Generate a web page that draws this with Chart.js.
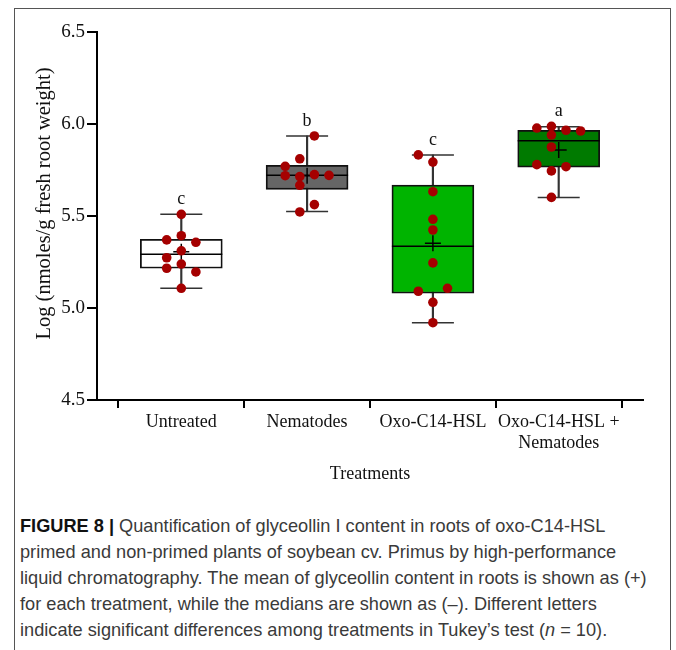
<!DOCTYPE html>
<html>
<head>
<meta charset="utf-8">
<script src="https://cdn.jsdelivr.net/npm/chart.js@4.4.1/dist/chart.umd.min.js"></script>
<style>
  body { margin: 0; background: #fff; width: 676px; height: 650px; overflow: hidden; position: relative; }
  #frame { position: absolute; left: 14px; top: 8px; width: 657px; height: 700px; border: 1.5px solid #555; box-sizing: border-box; }
  #chart { position: absolute; left: 0; top: 0; }
  #caption {
    position: absolute; left: 20px; top: 513px; width: 650px;
    font-family: "Liberation Sans", Arial, sans-serif; font-size: 18.2px; line-height: 26px;
    color: #3a3a3a; white-space: nowrap;
  }
  #caption b { color: #111; }
</style>
</head>
<body>
<div id="frame"></div>
<canvas id="chart" width="676" height="500"></canvas>
<div id="caption"><b>FIGURE 8 |</b> Quantification of glyceollin I content in roots of oxo-C14-HSL<br>primed and non-primed plants of soybean cv. Primus by high-performance<br>liquid chromatography. The mean of glyceollin content in roots is shown as (+)<br>for each treatment, while the medians are shown as (&#8211;). Different letters<br>indicate significant differences among treatments in Tukey&#8217;s test (<i>n</i> = 10).</div>
<script>
const categories = ['Untreated', 'Nematodes', 'Oxo-C14-HSL', ['Oxo-C14-HSL +', 'Nematodes']];
const sigLetters = ['c', 'b', 'c', 'a'];
const yTitle = 'Log (nmoles/g fresh root weight)';

// box statistics
const boxMin    = [5.107, 5.524, 4.920, 5.601];
const boxQ1     = [5.216, 5.645, 5.080, 5.765];
const boxMedian = [5.292, 5.721, 5.335, 5.909];
const boxQ3     = [5.373, 5.775, 5.668, 5.966];
const boxMax    = [5.509, 5.935, 5.832, 5.985];
const boxMean   = [5.306, 5.719, 5.352, 5.859];

// individual replicates (n = 10 per treatment)
const untreatedPts = [5.509, 5.393, 5.370, 5.357, 5.311, 5.273, 5.239, 5.216, 5.196, 5.107];
const nematodePts  = [5.935, 5.811, 5.770, 5.719, 5.714, 5.725, 5.721, 5.667, 5.562, 5.522];
const oxoPts       = [5.832, 5.793, 5.632, 5.482, 5.424, 5.245, 5.091, 5.107, 5.031, 4.920];
const oxoNemPts    = [5.978, 5.987, 5.940, 5.966, 5.962, 5.875, 5.779, 5.768, 5.745, 5.601];

// horizontal column of each dot inside its group (scatter-dot jitter)
const untreatedCol = [0, 0, -2, 2, 0, -2, 0, -2, 2, 0];
const nematodeCol  = [1, -1, -3, -3, -1, 1, 3, -1, 1, -1];
const oxoCol       = [-2, 0, 0, 0, 0, 0, -2, 2, 0, 0];
const oxoNemCol    = [-3, -1, -1, 1, 3, -1, -3, 1, -1, -1];

const groupPts = [untreatedPts, nematodePts, oxoPts, oxoNemPts];
const groupCol = [untreatedCol, nematodeCol, oxoCol, oxoNemCol];
const boxColors = ['#ffffff', '#666666', '#00b400', '#007a00'];

const colStep = 0.058;
const dots = [];
groupPts.forEach(function (pts, g) {
    for (var i = 0; i < pts.length; i++) {
        dots.push({ x: g + groupCol[g][i] * colStep, y: pts[i] });
    }
});

const idx = categories.map(function (c, i) { return i; });

// significance letters above the whiskers + the rotated y title
const letterPlugin = {
    id: 'letters',
    afterDatasetsDraw: function (chart) {
        const ctx = chart.ctx;
        const xs = chart.scales.x, ys = chart.scales.y;
        ctx.save();
        ctx.font = '18px "Liberation Serif"';
        ctx.fillStyle = '#111';
        ctx.textAlign = 'center';
        ctx.textBaseline = 'middle';
        for (var i = 0; i < sigLetters.length; i++) {
            ctx.fillText(sigLetters[i], xs.getPixelForValue(i), ys.getPixelForValue(boxMax[i]) - 15);
        }
        ctx.translate(45, (chart.chartArea.top + chart.chartArea.bottom) / 2 - 12.5);
        ctx.rotate(-Math.PI / 2);
        ctx.font = '20.5px "Liberation Serif"';
        ctx.fillText(yTitle, 0, 0);
        ctx.restore();
    }
};

Chart.defaults.font.family = '"Liberation Serif", "Times New Roman", serif';
Chart.defaults.color = '#111';

new Chart(document.getElementById('chart'), {
    type: 'bar',
    data: {
        datasets: [
            {
                type: 'scatter',
                data: dots,
                pointStyle: 'circle',
                pointRadius: 4.8,
                backgroundColor: '#a50000',
                borderWidth: 0,
                order: 0
            },
            {
                type: 'scatter',
                data: idx.map(function (i) { return { x: i, y: boxMean[i] }; }),
                pointStyle: 'cross',
                pointRadius: 8,
                borderColor: '#000',
                borderWidth: 1.5,
                order: 1
            },
            {
                type: 'scatter',
                data: idx.map(function (i) { return { x: i, y: boxMedian[i] }; }),
                pointStyle: 'line',
                pointRadius: 41,
                borderColor: '#000',
                borderWidth: 1.5,
                order: 2
            },
            {
                type: 'bar',
                data: idx.map(function (i) { return { x: i, y: [boxQ1[i], boxQ3[i]] }; }),
                backgroundColor: boxColors,
                borderColor: '#111',
                borderWidth: 1.8,
                borderSkipped: false,
                barThickness: 82,
                grouped: false,
                order: 3
            },
            {
                type: 'scatter',
                data: idx.map(function (i) { return { x: i, y: boxMax[i] }; })
                    .concat(idx.map(function (i) { return { x: i, y: boxMin[i] }; })),
                pointStyle: 'line',
                pointRadius: 21,
                borderColor: '#333',
                borderWidth: 1.5,
                order: 4
            },
            {
                type: 'bar',
                data: idx.map(function (i) { return { x: i, y: [boxMin[i], boxMax[i]] }; }),
                backgroundColor: '#333',
                borderWidth: 0,
                barThickness: 1.5,
                grouped: false,
                order: 5
            }
        ]
    },
    options: {
        responsive: false,
        animation: false,
        events: [],
        layout: { autoPadding: false, padding: { left: 0, right: 33, top: 32, bottom: 0 } },
        plugins: {
            legend: { display: false },
            tooltip: { enabled: false }
        },
        scales: {
            x: {
                type: 'linear',
                min: -0.67,
                max: 3.67,
                offset: false,
                afterBuildTicks: function (axis) {
                    axis.ticks = idx.map(function (v) { return { value: v }; });
                },
                afterFit: function (axis) { axis.height = 100; },
                ticks: {
                    callback: function (v) { return categories[v]; },
                    font: { size: 18, lineHeight: 1.15 },
                    padding: 4,
                    maxRotation: 0,
                    autoSkip: false
                },
                grid: { drawOnChartArea: false, drawTicks: true, tickLength: 8, color: '#000', lineWidth: 2 },
                border: { display: true, color: '#000', width: 2 },
                title: {
                    display: true,
                    text: 'Treatments',
                    font: { size: 18, lineHeight: 1.2 },
                    padding: { top: 0, bottom: 15 }
                }
            },
            y: {
                min: 4.5,
                max: 6.5,
                afterFit: function (axis) { axis.width = 97; },
                ticks: {
                    stepSize: 0.5,
                    callback: function (v) { return v.toFixed(1); },
                    font: { size: 19 },
                    padding: 2
                },
                grid: { drawOnChartArea: false, drawTicks: true, tickLength: 10, color: '#000', lineWidth: 2 },
                border: { display: true, color: '#000', width: 2 },
                title: { display: false }
            }
        }
    },
    plugins: [letterPlugin]
});
</script>
</body>
</html>
